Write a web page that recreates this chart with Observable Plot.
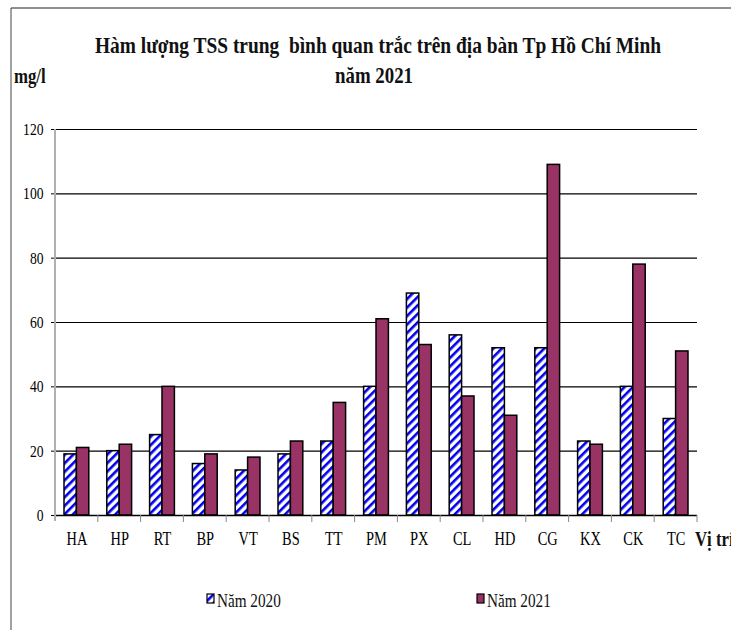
<!DOCTYPE html>
<html>
<head>
<meta charset="utf-8">
<script src="https://cdn.jsdelivr.net/npm/d3@7"></script>
<script src="https://cdn.jsdelivr.net/npm/@observablehq/plot@0.6"></script>
<style>
  html, body { margin: 0; padding: 0; background: #fff; }
</style>
</head>
<body>
<div id="chart"></div>
<script>
const categories = ["HA","HP","RT","BP","VT","BS","TT","PM","PX","CL","HD","CG","KX","CK","TC"];
const values2020 = [19, 20, 25, 16, 14, 19, 23, 40, 69, 56, 52, 52, 23, 40, 30];
const values2021 = [21, 22, 40, 19, 18, 23, 35, 61, 53, 37, 31, 109, 22, 78, 51];
const yTicks = [0, 20, 40, 60, 80, 100, 120];
const seriesNames = ["Năm 2020", "Năm 2021"];
const titleLines = ["Hàm lượng TSS trung  bình quan trắc trên địa bàn Tp Hồ Chí Minh", "năm 2021"];
const yLabel = "mg/l";
const xLabel = "Vị trí";

const FONT = "Liberation Serif, Times New Roman, serif";
const rows = categories.map((c, i) => ({cat: c, v2020: values2020[i], v2021: values2021[i]}));
const W = 731, H = 630;
const mL = 55, mR = 34, mT = 129, mB = 115;
const band = (W - mL - mR) / categories.length;
const barW = 12.4;
const off = 9;

const plot = Plot.plot({
  width: W,
  height: H,
  marginLeft: mL,
  marginRight: mR,
  marginTop: mT,
  marginBottom: mB,
  style: {background: "#fff", overflow: "visible"},
  x: {type: "band", domain: categories, padding: 0, round: false, label: null},
  y: {domain: [0, 120], ticks: yTicks, label: null},
  marks: [
    Plot.ruleY(yTicks.slice(1), {stroke: "#000", strokeWidth: 1.2}),
    Plot.barY(rows, {x: "cat", y: "v2020", fill: "url(#stripes2020)", stroke: "#000", strokeWidth: 1.5,
      insetLeft: off, insetRight: band - off - barW}),
    Plot.barY(rows, {x: "cat", y: "v2021", fill: "#993366", stroke: "#000", strokeWidth: 1.5,
      insetLeft: off + barW, insetRight: band - off - 2 * barW}),
    Plot.ruleY([0], {stroke: "#000", strokeWidth: 1.5}),
    Plot.axisY({ticks: yTicks, tickSize: 4, tickPadding: 8, fontSize: 17, stroke: "#000", label: null}),
    Plot.axisX({tickSize: 0, tickPadding: 17, fontSize: 18, label: null})
  ]
});

const svg = d3.select(plot);
svg.attr("font-family", FONT).style("font-family", FONT);
const xs = plot.scale("x");
const ys = plot.scale("y");

// pattern
const defs = svg.insert("defs", ":first-child");
const pat = defs.append("pattern")
  .attr("id", "stripes2020")
  .attr("patternUnits", "userSpaceOnUse")
  .attr("width", 6).attr("height", 6)
  .attr("patternTransform", "rotate(45)");
pat.append("rect").attr("width", 6).attr("height", 6).attr("fill", "#fff");
pat.append("rect").attr("width", 2.6).attr("height", 6).attr("fill", "#0000ee");

const y0 = ys.apply(0), yTop = ys.apply(120);
// gray y-axis line
svg.append("line").attr("x1", mL).attr("x2", mL).attr("y1", yTop).attr("y2", y0 + 6)
  .attr("stroke", "#b0b0b0").attr("stroke-width", 2);
// x boundary ticks
const bounds = categories.map(c => xs.apply(c)).concat([xs.apply(categories[categories.length - 1]) + xs.bandwidth]);
svg.append("g").selectAll("line").data(bounds.slice(1)).join("line")
  .attr("x1", d => d).attr("x2", d => d).attr("y1", y0).attr("y2", y0 + 7)
  .attr("stroke", "#888").attr("stroke-width", 1);

// frame
svg.append("line").attr("x1", 11).attr("x2", 11).attr("y1", 8).attr("y2", H).attr("stroke", "#444").attr("stroke-width", 1);
svg.append("line").attr("x1", 11).attr("x2", W).attr("y1", 8).attr("y2", 8).attr("stroke", "#222").attr("stroke-width", 1.2);

// title
const tg = svg.append("g").attr("font-weight", "bold").attr("font-size", 23).attr("text-anchor", "middle").attr("fill", "#111");
tg.append("text").attr("class", "fixed").attr("x", 378).attr("y", 53)
  .attr("textLength", 566).attr("lengthAdjust", "spacingAndGlyphs").text(titleLines[0]);
tg.append("text").attr("class", "fixed").attr("x", 374).attr("y", 83)
  .attr("textLength", 78).attr("lengthAdjust", "spacingAndGlyphs").text(titleLines[1]);

svg.append("text").attr("x", 14).attr("y", 83).attr("text-anchor", "start").attr("font-weight", "bold").attr("font-size", 21).attr("fill", "#111").text(yLabel);
svg.append("text").attr("x", 695).attr("y", 546).attr("text-anchor", "start").attr("font-weight", "bold").attr("font-size", 21).attr("fill", "#111").text(xLabel);

// legend
const legendItems = [
  {name: seriesNames[0], x: 207, fill: "url(#stripes2020)"},
  {name: seriesNames[1], x: 477, fill: "#993366"}
];
const lg = svg.append("g");
legendItems.forEach(it => {
  lg.append("rect").attr("x", it.x).attr("y", 594).attr("width", 7).attr("height", 9)
    .attr("fill", it.fill).attr("stroke", "#000").attr("stroke-width", 1.2);
  lg.append("text").attr("x", it.x + 10).attr("y", 607).attr("text-anchor", "start").attr("font-size", 19).attr("fill", "#111").text(it.name);
});

document.getElementById("chart").appendChild(plot);

// condense remaining text horizontally (reference glyphs are narrow Times-like)
svg.selectAll("text:not(.fixed)").each(function() {
  const len = this.getComputedTextLength();
  if (len > 0) {
    this.setAttribute("textLength", (len * 0.8).toFixed(1));
    this.setAttribute("lengthAdjust", "spacingAndGlyphs");
  }
});
</script>
</body>
</html>
